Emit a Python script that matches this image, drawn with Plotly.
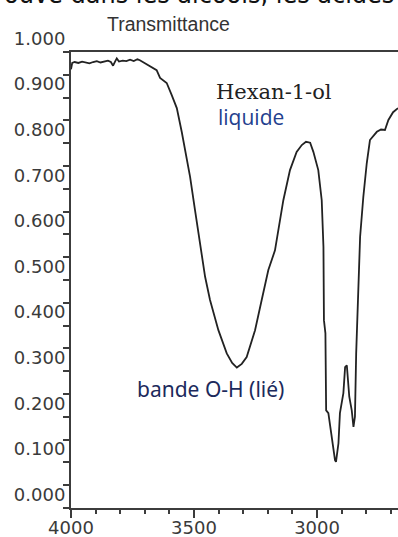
import plotly.graph_objects as go

wavenumber = [4000, 3995, 3985, 3970, 3955, 3940, 3925, 3910, 3895, 3880, 3865, 3850, 3838, 3829,
              3820, 3814, 3805, 3790, 3775, 3760, 3745, 3730, 3720, 3700, 3679, 3652, 3638, 3611,
              3591, 3570, 3550, 3530, 3516, 3496, 3476, 3455, 3435, 3401, 3367, 3345, 3326, 3306,
              3286, 3252, 3225, 3198, 3171, 3137, 3110, 3083, 3062, 3045, 3028, 3015, 2995, 2981,
              2974, 2972, 2966, 2963, 2954, 2947, 2936, 2927, 2923, 2913, 2907, 2893, 2886, 2879,
              2869, 2859, 2852, 2846, 2841, 2836, 2832, 2825, 2812, 2798, 2785, 2770, 2757, 2740,
              2724, 2710, 2691, 2671]
transmittance = [0.962, 0.976, 0.978, 0.976, 0.979, 0.977, 0.975, 0.978, 0.980, 0.977, 0.979, 0.981,
                 0.978, 0.970, 0.980, 0.986, 0.979, 0.981, 0.980, 0.983, 0.980, 0.984, 0.982, 0.976,
                 0.968, 0.960, 0.943, 0.932, 0.906, 0.877, 0.825, 0.767, 0.726, 0.653, 0.581, 0.507,
                 0.456, 0.390, 0.339, 0.318, 0.308, 0.316, 0.331, 0.390, 0.456, 0.522, 0.565, 0.675,
                 0.741, 0.781, 0.796, 0.803, 0.801, 0.781, 0.741, 0.675, 0.573, 0.412, 0.383, 0.214,
                 0.208, 0.178, 0.142, 0.105, 0.101, 0.142, 0.208, 0.252, 0.309, 0.313, 0.244, 0.214,
                 0.178, 0.200, 0.339, 0.412, 0.499, 0.595, 0.682, 0.756, 0.807, 0.818, 0.825, 0.830,
                 0.829, 0.851, 0.868, 0.877]

x_ticks = [4000, 3500, 3000]
y_ticks = [0.0, 0.1, 0.2, 0.3, 0.4, 0.5, 0.6, 0.7, 0.8, 0.9, 1.0]
y_tick_labels = ["0.000", "0.100", "0.200", "0.300", "0.400", "0.500",
                 "0.600", "0.700", "0.800", "0.900", "1.000"]

axis_col = "#3c3c3c"
tick_font = dict(family="DejaVu Sans", size=18, color="#3a3a3a")

fig = go.Figure()
fig.add_trace(go.Scatter(x=wavenumber, y=transmittance, mode="lines",
                         line=dict(color="#222222", width=1.8), showlegend=False,
                         hoverinfo="skip"))

fig.update_layout(
    width=398, height=537,
    margin=dict(l=71, r=0, t=52, b=29),
    paper_bgcolor="white", plot_bgcolor="white",
    xaxis=dict(range=[4000, 2671], tickvals=x_ticks, ticktext=[str(v) for v in x_ticks],
               automargin=False,
               showgrid=False, zeroline=False, showline=True, linecolor=axis_col, linewidth=2,
               mirror=True, ticks="outside", ticklen=8, tickwidth=2, tickcolor=axis_col,
               tickfont=tick_font, ticklabelstandoff=-6,
               minor=dict(dtick=100, tick0=0, ticks="outside", ticklen=4, tickwidth=2,
                          tickcolor=axis_col, showgrid=False)),
    yaxis=dict(range=[0, 1], tickvals=y_ticks, ticktext=y_tick_labels,
               automargin=False,
               showgrid=False, zeroline=False, showline=True, linecolor=axis_col, linewidth=2,
               ticks="outside", ticklen=6, tickwidth=2, tickcolor=axis_col,
               tickfont=tick_font, ticklabelposition="outside top",
               minor=dict(dtick=0.05, tick0=0, ticks="outside", ticklen=6, tickwidth=2,
                          tickcolor=axis_col, showgrid=False)),
)

fig.add_annotation(text="Transmittance", xref="paper", yref="paper", x=0.297, y=1.0625,
                   xanchor="center", yanchor="middle", showarrow=False,
                   font=dict(family="Liberation Sans", size=19.5, color="#333333"))
fig.add_annotation(text="ouvé dans les alcools, les acides", xref="paper", yref="paper",
                   x=-0.212, y=1.0896, xanchor="left", yanchor="bottom", showarrow=False,
                   font=dict(family="DejaVu Sans", size=24, color="#111111"))
fig.add_annotation(text="Hexan-1-ol", xref="x", yref="y", x=3420, y=0.912,
                   xanchor="left", yanchor="middle", showarrow=False,
                   font=dict(family="DejaVu Serif", size=21, color="#222222"))
fig.add_annotation(text="liquide", xref="x", yref="y", x=3412, y=0.857,
                   xanchor="left", yanchor="middle", showarrow=False,
                   font=dict(family="Open Sans", size=21, color="#23408e"))
fig.add_annotation(text="bande O-H (lié)", xref="x", yref="y", x=3740, y=0.260,
                   xanchor="left", yanchor="middle", showarrow=False,
                   font=dict(family="Noto Sans", size=21, color="#1c2a5c"))

fig.write_html("out.html", config={"displayModeBar": False},
               post_script="document.body.style.margin='0';")
